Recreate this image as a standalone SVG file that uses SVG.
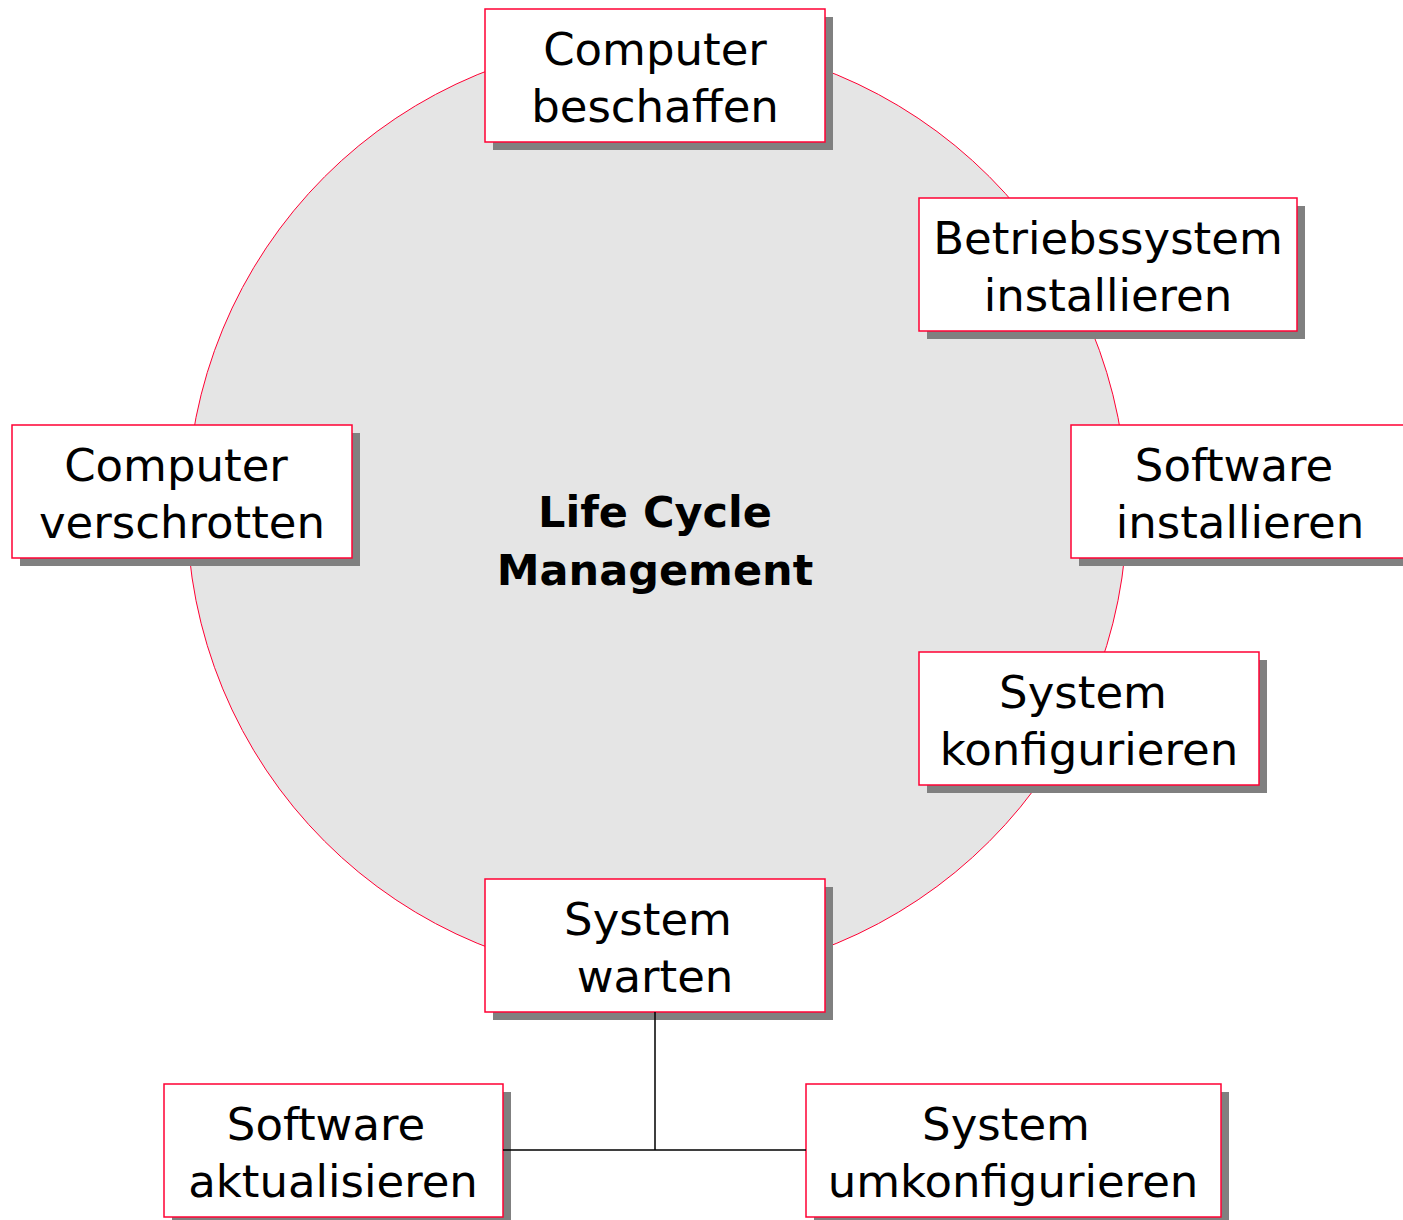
<svg xmlns="http://www.w3.org/2000/svg" width="1403" height="1220" viewBox="0 0 1403 1220">
<style>
.sh{fill:#808080}
.bx{fill:#ffffff;stroke:#ff0033;stroke-width:1.5}
.t{font-family:"DejaVu Sans","Liberation Sans",sans-serif;font-size:45px;fill:#000;text-anchor:middle}
.title{font-family:"DejaVu Sans","Liberation Sans",sans-serif;font-size:43px;font-weight:bold;fill:#000;text-anchor:middle}
.ln{stroke:#000;stroke-width:1.5;fill:none}
</style>
<rect width="1403" height="1220" fill="#ffffff"/>
<circle cx="657" cy="509" r="470" fill="#e5e5e5" stroke="#ff0033" stroke-width="1"/>
<g id="title">
<text class="title" x="655" y="527">Life Cycle</text>
<text class="title" x="655" y="585">Management</text>
</g>
<g id="n1"><rect class="sh" x="493" y="17" width="340" height="133"/><rect class="bx" x="485" y="9" width="340" height="133"/>
<text class="t" x="655" y="65">Computer</text><text class="t" x="655" y="122">beschaffen</text></g>
<g id="n2"><rect class="sh" x="927" y="206" width="378" height="133"/><rect class="bx" x="919" y="198" width="378" height="133"/>
<text class="t" x="1108" y="254">Betriebssystem</text><text class="t" x="1108" y="311">installieren</text></g>
<g id="n3"><rect class="sh" x="1079" y="433" width="340" height="133"/><rect class="bx" x="1071" y="425" width="340" height="133"/>
<text class="t" x="1234" y="481">Software</text><text class="t" x="1240" y="538">installieren</text></g>
<g id="n4"><rect class="sh" x="927" y="660" width="340" height="133"/><rect class="bx" x="919" y="652" width="340" height="133"/>
<text class="t" x="1083" y="708">System</text><text class="t" x="1089" y="765">konfigurieren</text></g>
<g id="n5"><rect class="sh" x="493" y="887" width="340" height="133"/><rect class="bx" x="485" y="879" width="340" height="133"/>
<text class="t" x="648" y="935">System</text><text class="t" x="655" y="992">warten</text></g>
<g id="n6"><rect class="sh" x="20" y="433" width="340" height="133"/><rect class="bx" x="12" y="425" width="340" height="133"/>
<text class="t" x="176" y="481">Computer</text><text class="t" x="182" y="538">verschrotten</text></g>
<g id="n7"><rect class="sh" x="172" y="1092" width="339" height="133"/><rect class="bx" x="164" y="1084" width="339" height="133"/>
<text class="t" x="326" y="1140">Software</text><text class="t" x="333" y="1197">aktualisieren</text></g>
<g id="n8"><rect class="sh" x="814" y="1092" width="415" height="133"/><rect class="bx" x="806" y="1084" width="415" height="133"/>
<text class="t" x="1006" y="1140">System</text><text class="t" x="1013" y="1197">umkonfigurieren</text></g>
<g id="connectors">
<path class="ln" d="M655 1012 V1150 M503 1150 H806"/>
</g>
</svg>
